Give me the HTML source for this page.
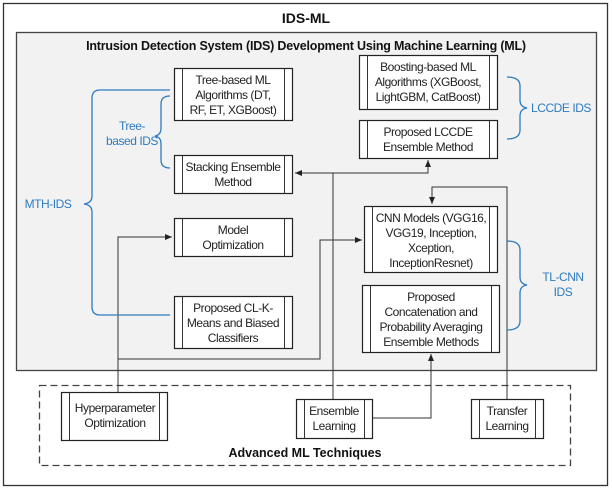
<!DOCTYPE html>
<html><head><meta charset="utf-8"><style>
html,body{margin:0;padding:0;background:#fff;}
svg{display:block;font-family:"Liberation Sans",sans-serif;}
.t{font-size:12px;fill:#222;text-anchor:middle;letter-spacing:-0.45px;}
.b{font-size:12px;fill:#2e7bbf;text-anchor:middle;letter-spacing:-0.45px;}
.bx{fill:#fff;stroke:#222;stroke-width:1.2;}
.ln{stroke:#333;stroke-width:1;fill:none;}
.br{stroke:#2e7bbf;stroke-width:1.3;fill:none;}
</style></head><body>
<svg width="612" height="490" viewBox="0 0 612 490">
<defs><marker id="a" markerWidth="8" markerHeight="8" refX="7" refY="4" orient="auto" markerUnits="userSpaceOnUse"><path d="M0,1 L7,4 L0,7z" fill="#222"/></marker></defs>
<rect x="3.5" y="3.5" width="604" height="482" fill="#fff" stroke="#333" stroke-width="1.3"/>
<text x="306" y="23" style="font-size:14px;font-weight:bold;text-anchor:middle;fill:#111">IDS-ML</text>
<rect x="16.5" y="32.5" width="580" height="338" fill="#f2f2f2" stroke="#444" stroke-width="1.3"/>
<text x="306" y="50" style="font-size:12.5px;font-weight:bold;text-anchor:middle;fill:#111;letter-spacing:-0.2px">Intrusion Detection System (IDS) Development Using Machine Learning (ML)</text>
<rect x="39.5" y="385.5" width="531" height="80" fill="none" stroke="#444" stroke-width="1.3" stroke-dasharray="7,4"/>
<text x="305" y="457" style="font-size:12.5px;font-weight:bold;text-anchor:middle;fill:#111">Advanced ML Techniques</text>

<path class="ln" d="M118,392 V237 H172" marker-end="url(#a)"/>
<path class="ln" d="M118,359 H320 V240 H362" marker-end="url(#a)"/>
<path class="ln" d="M333,399 V173 H295" marker-end="url(#a)"/>
<path class="ln" d="M333,173 H428 V160" marker-end="url(#a)"/>
<path class="ln" d="M372,418 H431 V354" marker-end="url(#a)"/>
<path class="ln" d="M507,399 V187 H432 V204" marker-end="url(#a)"/>

<g>
<rect class="bx" x="174.5" y="68.5" width="118" height="52"/><path class="ln" d="M182.5,68.5V120.5M284.5,68.5V120.5"/>
<text class="t" x="233" y="84">Tree-based ML</text><text class="t" x="233" y="99">Algorithms (DT,</text><text class="t" x="233" y="114">RF, ET, XGBoost)</text>
<rect class="bx" x="174.5" y="155.5" width="118" height="38"/><path class="ln" d="M182.5,155.5V193.5M284.5,155.5V193.5"/>
<text class="t" x="233" y="171">Stacking Ensemble</text><text class="t" x="233" y="186">Method</text>
<rect class="bx" x="174.5" y="218.5" width="118" height="38"/><path class="ln" d="M182.5,218.5V256.5M284.5,218.5V256.5"/>
<text class="t" x="233" y="234">Model</text><text class="t" x="233" y="249">Optimization</text>
<rect class="bx" x="174.5" y="296.5" width="118" height="52"/><path class="ln" d="M182.5,296.5V348.5M284.5,296.5V348.5"/>
<text class="t" x="233" y="312">Proposed CL-K-</text><text class="t" x="233" y="327">Means and Biased</text><text class="t" x="233" y="342">Classifiers</text>
<rect class="bx" x="359.5" y="55.5" width="138" height="54"/><path class="ln" d="M367.5,55.5V109.5M489.5,55.5V109.5"/>
<text class="t" x="428" y="71">Boosting-based ML</text><text class="t" x="428" y="86">Algorithms (XGBoost,</text><text class="t" x="428" y="101">LightGBM, CatBoost)</text>
<rect class="bx" x="359.5" y="120.5" width="138" height="38"/><path class="ln" d="M367.5,120.5V158.5M489.5,120.5V158.5"/>
<text class="t" x="428" y="136">Proposed LCCDE</text><text class="t" x="428" y="151">Ensemble Method</text>
<rect class="bx" x="364.5" y="206.5" width="133" height="66"/><path class="ln" d="M372.5,206.5V272.5M489.5,206.5V272.5"/>
<text class="t" x="431" y="222">CNN Models (VGG16,</text><text class="t" x="431" y="237">VGG19, Inception,</text><text class="t" x="431" y="252">Xception,</text><text class="t" x="431" y="267">InceptionResnet)</text>
<rect class="bx" x="362.5" y="285.5" width="137" height="67"/><path class="ln" d="M370.5,285.5V352.5M491.5,285.5V352.5"/>
<text class="t" x="431" y="301">Proposed</text><text class="t" x="431" y="316">Concatenation and</text><text class="t" x="431" y="331">Probability Averaging</text><text class="t" x="431" y="346">Ensemble Methods</text>
<rect class="bx" x="61.5" y="392.5" width="106" height="48"/><path class="ln" d="M69.5,392.5V440.5M159.5,392.5V440.5"/>
<text class="t" x="115" y="412">Hyperparameter</text><text class="t" x="115" y="427">Optimization</text>
<rect class="bx" x="296.5" y="399.5" width="76" height="39"/><path class="ln" d="M304.5,399.5V438.5M364.5,399.5V438.5"/>
<text class="t" x="334" y="415">Ensemble</text><text class="t" x="334" y="430">Learning</text>
<rect class="bx" x="471.5" y="399.5" width="72" height="39"/><path class="ln" d="M479.5,399.5V438.5M535.5,399.5V438.5"/>
<text class="t" x="507" y="415">Transfer</text><text class="t" x="507" y="430">Learning</text>
</g>

<path class="br" d="M170,90 H100 Q92,90 92,98 V196 Q92,203 84,204 Q92,205 92,212 V307 Q92,315 100,315 H170"/>
<text class="b" x="48" y="208">MTH-IDS</text>
<path class="br" d="M170,96 Q161,96 161,104 V128 Q161,135 155,136 Q161,137 161,144 V160 Q161,168 170,168"/>
<text class="b" x="132" y="130">Tree-</text><text class="b" x="132" y="145">based IDS</text>
<path class="br" d="M507,77 Q520,77 520,86 V100 Q520,107 527,108 Q520,109 520,116 V130 Q520,139 507,139"/>
<text class="b" x="561" y="112">LCCDE IDS</text>
<path class="br" d="M507,241 Q520,241 520,250 V277 Q520,284 527,285 Q520,286 520,293 V321 Q520,330 507,330"/>
<text class="b" x="563" y="281">TL-CNN</text><text class="b" x="563" y="296">IDS</text>
</svg>
</body></html>
